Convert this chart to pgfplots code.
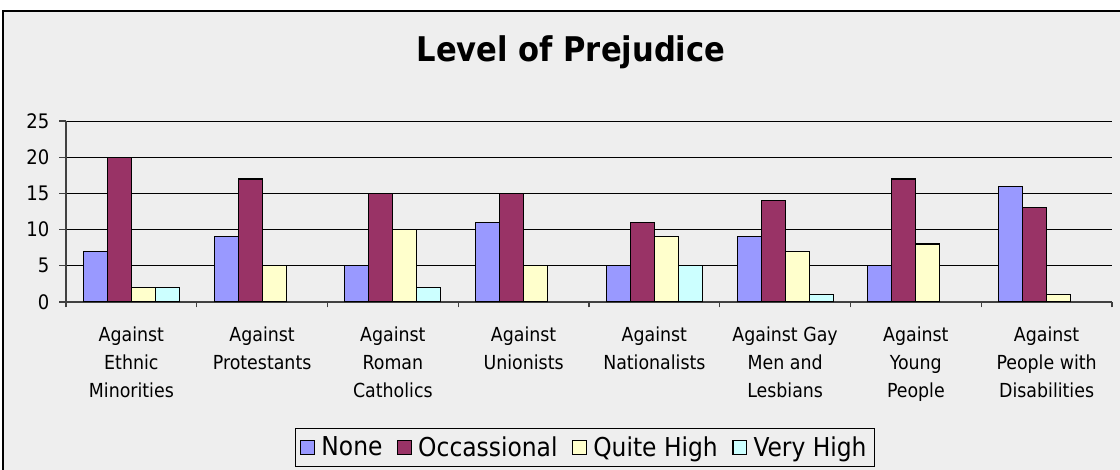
\documentclass[border=0pt]{standalone}
\usepackage{fontspec}
\setmainfont{DejaVu Sans Condensed}
\usepackage{pgfplots}
\pgfplotsset{compat=1.18}
\definecolor{bg}{HTML}{EEEEEE}
\definecolor{cnone}{HTML}{9999FF}
\definecolor{cocc}{HTML}{993366}
\definecolor{cqh}{HTML}{FFFFCC}
\definecolor{cvh}{HTML}{CCFFFF}
\pgfplotsset{mybar/.style={fill=#1, draw=black, line width=0.9pt,
  legend image code/.code={\draw[fill=#1,draw=black,line width=0.8pt] (0pt,-5pt) rectangle (10pt,5pt);}}}
\begin{document}
\begin{tikzpicture}[x=0.75pt,y=0.75pt]
\useasboundingbox (0,0) rectangle (1120,470);
\fill[white] (0,0) rectangle (1120,470);
\filldraw[fill=bg, draw=black, line width=1.5pt] (3,-10) rectangle (1130,459);
\node[font=\bfseries\fontsize{25.5}{30}\selectfont] at (571,418) {Level of Prejudice};
\begin{axis}[
  at={(49.5pt,126pt)}, anchor=south west,
  scale only axis, width=784.5pt, height=135.75pt,
  xmin=0.5, xmax=8.5, ymin=0, ymax=25,
  ybar=0pt, bar width=18pt,
  ytick={0,5,...,25},
  ymajorgrids, grid style={black, line width=0.7pt},
  axis x line*=bottom, axis y line*=left,
  axis line style={black!75, line width=0.9pt, -},
  xtick={1,...,8},
  xticklabels={{Against\\Ethnic\\Minorities},{Against\\Protestants},{Against\\Roman\\Catholics},{Against\\Unionists},{Against\\Nationalists},{Against Gay\\Men and\\Lesbians},{Against\\Young\\People},{Against\\People with\\Disabilities}},
  xticklabel style={align=center, font=\fontsize{14.5}{21}\selectfont, yshift=-10pt},
  yticklabel style={font=\fontsize{15}{17}\selectfont, xshift=-4pt},
  /pgf/number format/assume math mode=true,
  major x tick style={draw=none},
  minor xtick={0.5,1.5,...,8.5},
  tick align=outside, major tick length=5pt, minor tick length=4pt,
  tick style={black!75, line width=0.9pt},
  legend style={at={(0.496,-0.696)}, anchor=north, legend columns=-1, draw=black, line width=0.8pt, fill=bg,
    font=\fontsize{19.5}{23}\selectfont, inner xsep=4pt, inner ysep=4pt,
    /tikz/every even column/.append style={column sep=9pt},
    /tikz/every odd column/.append style={column sep=3pt}},
]
\addplot[mybar=cnone] coordinates {(1,7) (2,9) (3,5) (4,11) (5,5) (6,9) (7,5) (8,16)};
\addplot[mybar=cocc] coordinates {(1,20) (2,17) (3,15) (4,15) (5,11) (6,14) (7,17) (8,13)};
\addplot[mybar=cqh] coordinates {(1,2) (2,5) (3,10) (4,5) (5,9) (6,7) (7,8) (8,1)};
\addplot[mybar=cvh] coordinates {(1,2) (3,2) (5,5) (6,1)};
\legend{None,Occassional,Quite High,Very High}
\end{axis}
\end{tikzpicture}
\end{document}
